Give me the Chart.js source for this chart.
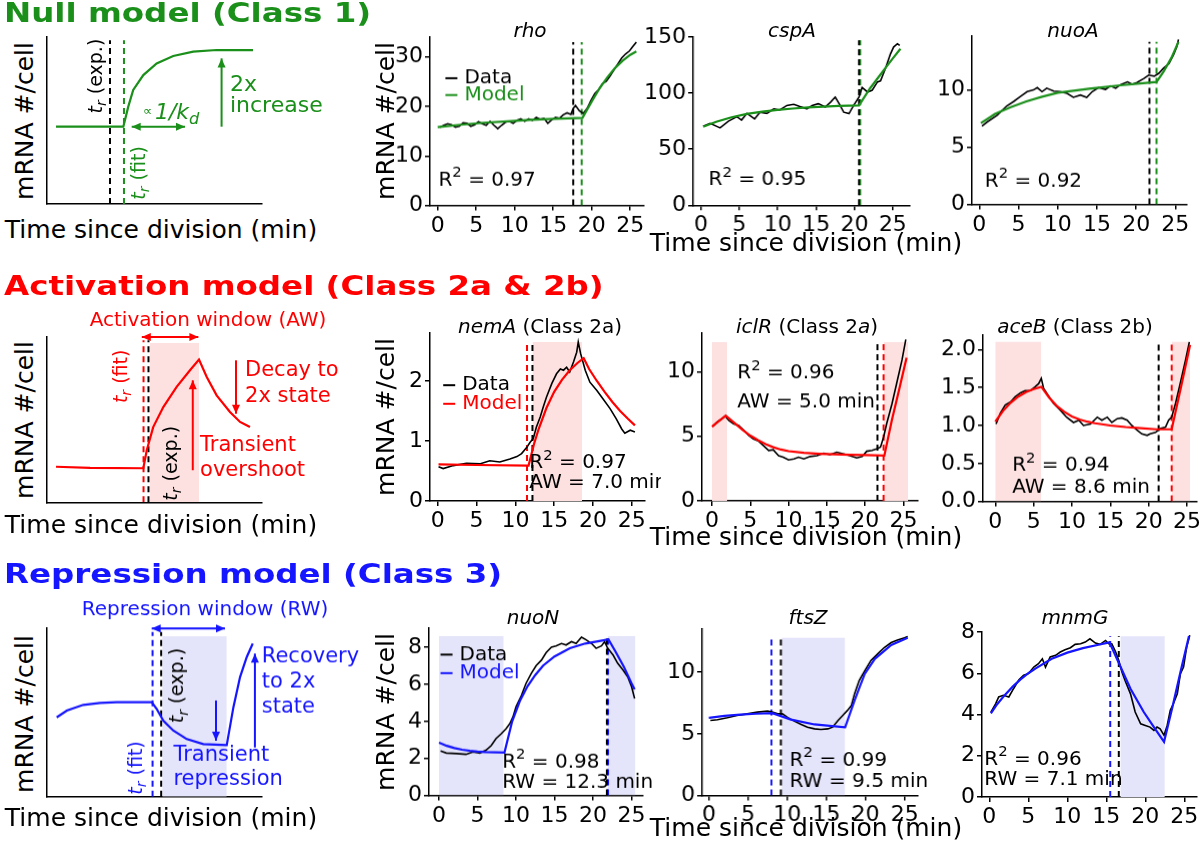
<!DOCTYPE html>
<html>
<head>
<meta charset="utf-8">
<script src="https://cdn.jsdelivr.net/npm/chart.js@4.4.1/dist/chart.umd.min.js"></script>
<style>
  body { margin: 0; background: #fff; }
  #fig { position: relative; width: 1200px; height: 853px; overflow: hidden; font-family: "DejaVu Sans", sans-serif; }
  .box { position: absolute; }
  .lbl { position: absolute; white-space: nowrap; line-height: 1; }
</style>
</head>
<body>
<div id="fig"></div>
<script>
// ---- data: [time since division (min), mRNA #/cell] ----
const timeTicks = [0, 5, 10, 15, 20, 25];

const rhoData = [[0.3,15.8],[0.8,16.2],[1.3,16.5],[1.8,16.3],[2.3,15.8],[2.8,16.0],[3.3,16.7],[3.8,16.6],[4.3,16.0],[4.8,16.3],[5.3,16.9],[5.8,16.5],[6.3,16.2],[6.8,17.0],[7.3,16.2],[7.8,15.5],[8.3,16.2],[8.8,16.8],[9.3,17.0],[9.8,16.6],[10.3,17.2],[10.8,17.5],[11.3,17.0],[11.8,17.5],[12.3,17.2],[12.8,17.8],[13.3,17.4],[13.8,17.6],[14.3,16.6],[14.8,17.3],[15.3,17.8],[15.8,17.6],[16.3,18.3],[16.8,18.7],[17.3,18.4],[17.6,19.6],[17.9,20.2],[18.4,19.1],[18.9,18.6],[19.4,19.6],[19.9,21.2],[20.4,22.6],[20.9,23.4],[21.4,24.6],[21.9,25.1],[22.4,26.2],[22.9,27.4],[23.4,28.6],[23.9,29.8],[24.4,30.6],[24.9,31.2],[25.3,32.0],[25.8,33.0]];
const rhoModel = [[0,15.8],[3,16.3],[6,16.7],[9,17.0],[12,17.3],[15,17.5],[18.8,17.7],[20,21.0],[21,23.6],[22,25.8],[23,27.7],[24,29.2],[25,30.4],[25.8,31.1]];
const rhoTicks = [0, 10, 20, 30];
const rhoTr = [17.6, 18.7];

const cspAData = [[0.3,70.4],[1.2,73],[2.5,69],[3.6,75],[4.7,79],[5.3,76],[6,82],[7,77],[7.7,83],[8.6,82],[9.5,86],[10.3,85],[11.2,89],[12.1,90],[12.9,88],[13.8,86],[14.5,89],[15.3,90.6],[16.2,87.6],[16.9,92],[17.5,96.5],[18,90.6],[18.6,83],[19.3,81.7],[19.9,89],[20.6,96.5],[21,105],[21.7,101],[22.3,102.5],[23,110],[23.4,111],[24.1,123],[24.7,135],[25.1,141],[25.6,144],[25.9,142.6]];
const cspAModel = [[0.3,70],[2,74.5],[4,78.5],[6,81.5],[8,83.5],[10,85],[12,86.3],[14,87.3],[16,88],[18,88.6],[20.6,89],[22,104],[23,113],[24,122],[25,131],[26,139.5]];
const cspATicks = [0, 50, 100, 150];
const cspATr = [20.6, 20.75];

const nuoAData = [[0.34,6.84],[1,7.2],[2.3,7.8],[3.5,8.6],[4.4,9.0],[5.2,9.4],[6.1,9.85],[6.9,10.0],[7.4,10.2],[8,9.85],[8.6,10.15],[9.5,9.9],[10.3,9.85],[11.2,9.7],[12,9.35],[12.9,9.55],[13.7,9.35],[14.4,9.85],[15.2,10.2],[16.1,10.05],[16.7,10.35],[17.4,10.15],[18,10.45],[18.9,10.7],[19.5,10.5],[20.1,10.65],[21,11.0],[21.6,11.3],[22.3,11.2],[22.9,11.45],[23.5,11.9],[24.2,12.3],[24.8,13.1],[25.2,13.8],[25.4,14.4]];
const nuoAModel = [[0.2,7.1],[2,7.9],[4,8.5],[6,9.0],[8,9.4],[10,9.75],[14,10.1],[18,10.4],[22.6,10.7],[23.5,11.6],[24.5,12.8],[25.4,14.2]];
const nuoATicks = [0, 5, 10];
const nuoATr = [21.7, 22.6];

const nemAData = [[0.1,0.57],[0.7,0.54],[2,0.59],[3.7,0.63],[5.5,0.62],[6.7,0.67],[8,0.65],[9.3,0.7],[10.2,0.74],[10.8,0.79],[11.5,0.9],[11.9,0.98],[12.3,1.04],[12.7,1.23],[13.2,1.4],[13.6,1.57],[14,1.73],[14.7,1.96],[15.3,2.12],[15.8,2.2],[16.2,2.18],[16.6,2.23],[17,2.15],[17.5,2.32],[17.9,2.48],[18.1,2.65],[18.4,2.46],[19,2.18],[19.6,1.98],[20.5,1.84],[21.3,1.7],[22.2,1.54],[23,1.37],[23.7,1.2],[24.1,1.13],[24.8,1.18],[25.4,1.15]];
const nemAModel = [[0.1,0.61],[5,0.6],[11.7,0.59],[12.4,0.95],[13,1.2],[14,1.55],[15,1.82],[16,2.02],[17,2.18],[18,2.3],[18.8,2.38],[19.5,2.2],[20.5,2.0],[21.5,1.82],[22.5,1.65],[23.5,1.5],[24.5,1.37],[25.4,1.26]];
const nemATicks = [0, 1, 2];
const nemATr = [12.2, 11.5];
const nemAWin = [[12.2, 18.6]];

const iclRData = [[0.1,5.77],[0.65,6.1],[1.3,6.36],[1.7,6.57],[2.2,6.23],[2.8,5.97],[3.5,5.84],[4.1,5.5],[4.8,5.06],[5.4,4.8],[6.1,4.62],[6.7,4.29],[7.4,3.9],[8,3.95],[8.7,3.5],[9.3,3.38],[10,3.17],[10.7,3.25],[11.3,3.38],[12,3.25],[12.8,3.43],[13.7,3.5],[14.6,3.69],[15.4,3.58],[16.3,3.77],[17.2,3.64],[18,3.5],[18.9,3.32],[19.6,3.43],[20.2,3.84],[20.9,3.9],[21.5,4.03],[22,4.16],[22.4,4.94],[22.8,5.97],[23.5,7.53],[24.1,9.09],[24.8,10.9],[25.3,12.5]];
const iclRModel = [[0,5.75],[1.8,6.6],[3,6.0],[4,5.5],[5,5.05],[6,4.7],[7,4.4],[8,4.15],[9,3.97],[10,3.85],[12,3.72],[14,3.65],[16,3.6],[18,3.57],[20,3.54],[22.5,3.5],[23.5,6.3],[24.5,8.8],[25.4,11.1]];
const iclRTicks = [0, 5, 10];
const iclRTr = [21.6, 22.4];
const iclRWin = [[0, 2.0], [22.4, 25.6]];

const aceBData = [[0.1,1.02],[0.65,1.16],[1.3,1.27],[2,1.31],[2.6,1.38],[3.3,1.43],[3.9,1.46],[4.6,1.46],[5.2,1.51],[5.65,1.55],[6,1.62],[6.3,1.49],[7,1.38],[7.6,1.29],[8.5,1.2],[9.3,1.11],[10.2,1.04],[10.9,1.07],[11.5,1.0],[12.4,1.02],[13.3,1.11],[13.9,1.07],[14.6,1.11],[15.2,1.04],[15.9,1.09],[16.5,1.1],[17.2,1.07],[17.8,1.0],[18.5,0.94],[19.1,0.89],[19.8,0.87],[20.2,0.89],[20.9,0.91],[21.5,0.96],[22.2,0.98],[22.6,1.07],[23,1.11],[23.5,1.29],[24.1,1.55],[24.8,1.86],[25.3,2.1]];
const aceBModel = [[0,1.05],[1,1.19],[2,1.3],[3,1.38],[4,1.44],[5,1.48],[6,1.51],[7,1.37],[8,1.26],[9,1.18],[10,1.12],[11,1.08],[12,1.05],[13,1.03],[15,1.0],[17,0.98],[19,0.965],[21,0.95],[23,0.95],[24.2,1.5],[25.4,2.06]];
const aceBTicks = [0, 0.5, 1, 1.5, 2];
const aceBTr = [21.3, 23.0];
const aceBWin = [[0, 6.0], [23.0, 25.4]];

const nuoNData = [[0.2,2.4],[0.95,2.29],[2.25,2.26],[3.5,2.22],[4.4,2.35],[5.3,2.29],[6.1,2.44],[6.8,2.7],[7.4,3.07],[8.1,3.34],[8.7,3.6],[9.2,3.88],[9.6,4.24],[10,4.78],[10.7,5.4],[11.3,6.05],[12,6.6],[12.6,7.0],[13.3,7.3],[13.9,7.7],[14.6,8.0],[15.2,8.07],[15.9,8.2],[16.5,8.12],[17.2,8.3],[17.8,8.2],[18.5,8.54],[19.1,8.4],[19.8,8.2],[20.4,7.94],[21.1,8.07],[21.5,8.3],[21.9,7.94],[22.6,7.58],[23.2,7.13],[23.9,6.77],[24.5,6.4],[25,5.87],[25.4,5.23]];
const nuoNModel = [[0,2.85],[1,2.68],[2,2.56],[3,2.47],[4,2.41],[5,2.37],[6,2.34],[8.5,2.32],[9.5,4.0],[10.5,5.1],[11.5,5.9],[12.5,6.5],[13.5,7.0],[15,7.5],[17,7.95],[19,8.2],[21,8.35],[22,8.42],[23,7.7],[24,6.95],[25,6.05],[25.4,5.72]];
const nuoNTicks = [0, 2, 4, 6, 8];
const nuoNTr = [21.8, 21.95];
const nuoNWin = [[0, 8.4], [21.9, 25.5]];

const ftsZData = [[0.2,6.08],[1.1,6.14],[2.35,6.3],[3.6,6.49],[4.9,6.62],[6.2,6.76],[7.5,6.84],[8.1,6.76],[8.8,6.62],[9.4,6.62],[10,6.35],[10.9,6.03],[11.8,5.76],[12.6,5.54],[13.5,5.4],[14.3,5.35],[15.2,5.4],[15.8,5.54],[16.5,6.08],[17.1,6.49],[17.7,6.9],[18.2,7.3],[18.6,8.24],[19.2,9.32],[19.9,10.1],[20.7,10.95],[21.6,11.5],[22.4,12.0],[23.3,12.4],[24.1,12.6],[25,12.8],[25.4,12.9]];
const ftsZModel = [[0,6.3],[2,6.45],[4,6.55],[6,6.63],[8.1,6.68],[10.5,6.15],[13.5,5.76],[17.4,5.53],[18.6,7.7],[19.9,9.86],[21.2,11.08],[23.3,12.2],[25.4,12.8]];
const ftsZTicks = [0, 5, 10];
const ftsZTr = [9.2, 8.0];
const ftsZWin = [[9.3, 17.4]];

const mnmGData = [[0.2,4.12],[0.8,4.52],[1.2,4.85],[1.8,4.93],[2.5,4.85],[3.1,5.25],[3.8,5.69],[4.4,5.9],[5,5.98],[5.7,6.3],[6.3,6.46],[6.8,6.7],[7.2,6.3],[7.8,6.79],[8.5,6.87],[9.1,7.03],[9.7,7.14],[10.4,7.24],[11,7.4],[11.7,7.43],[12.3,7.51],[12.9,7.67],[13.6,7.46],[14.2,7.4],[14.9,7.59],[15.3,7.43],[15.7,7.43],[16.2,7.03],[16.6,6.62],[17,6.06],[17.4,5.65],[18.1,5.0],[18.7,4.12],[19.4,3.55],[20,3.47],[20.6,3.39],[21.1,3.23],[21.5,3.39],[21.9,3.31],[22.4,2.99],[22.8,3.47],[23.2,4.2],[23.6,4.52],[24.1,5.0],[24.5,5.98],[24.9,6.3],[25.3,7.27],[25.7,7.84]];
const mnmGModel = [[0.2,4.05],[1,4.5],[2,4.95],[3,5.35],[4,5.7],[5,6.0],[6,6.25],[8,6.7],[10,7.0],[12,7.22],[14,7.38],[15.4,7.5],[16.6,6.5],[18.1,5.25],[19.8,4.12],[21.1,3.39],[22.4,2.67],[23.5,4.4],[24.5,6.05],[25.6,7.8]];
const mnmGTicks = [0, 2, 4, 6, 8];
const mnmGTr = [16.6, 15.5];
const mnmGWin = [[16.8, 22.5]];

// ---- schematic curves (arbitrary units 0-100) ----
const nullCurve = [[4.2,46.3],[35.5,46.3],[37.8,58.3],[40.1,68.3],[44.8,77.2],[51,84.2],[58.7,88.6],[68,91.2],[78.9,92.2],[95.8,92.2]];
const actCurve = [[4.2,21.5],[20,20.8],[44.8,20.6],[46.4,31.5],[49.4,45.5],[54.1,57.6],[60.3,69.8],[66.5,79.9],[70.7,86.3],[74.3,75.8],[78.9,64.7],[85.1,54.6],[89.8,48.6],[94.4,45.5]];
const repCurve = [[4.5,47.1],[9.2,51.1],[16.9,54.5],[24.7,55.7],[32.4,56.1],[48.7,56.1],[51,52.1],[54.1,45.1],[58.8,39.2],[65,34.2],[72.7,31.2],[83.6,30.6],[86.7,53.1],[89.8,71],[92.9,82.9],[95.7,90.9]];

const GREEN = '#1a8f1a', RED = '#ff0000', BLUE = '#1515ff';
const PINK = '#fde1e1', LAV = '#e4e4fa';
const FONT = '"DejaVu Sans", sans-serif';
const fig = document.getElementById('fig');

// small rich text: *..* italic, _x subscript, ^x superscript
function parseRich(str) {
  const segs = []; let it = false;
  for (let i = 0; i < str.length; i++) {
    const c = str[i];
    if (c === '*') { it = !it; continue; }
    if (c === '_' || c === '^') { segs.push({t: str[++i], it, sub: c === '_', sup: c === '^'}); continue; }
    const last = segs[segs.length - 1];
    if (last && !last.sub && !last.sup && last.it === it) last.t += c;
    else segs.push({t: c, it});
  }
  return segs;
}

function drawRich(ctx, str, x, y, size, color, align, rot) {
  ctx.save();
  ctx.translate(x, y);
  if (rot) ctx.rotate(rot * Math.PI / 180);
  ctx.fillStyle = color;
  ctx.textBaseline = 'middle';
  ctx.textAlign = 'left';
  const parts = parseRich(str).map(s => {
    const sz = (s.sub || s.sup) ? size * 0.74 : size;
    const font = (s.it ? 'italic ' : '') + sz + 'px ' + FONT;
    ctx.font = font;
    return {t: s.t, font, w: ctx.measureText(s.t).width, dy: s.sub ? size * 0.3 : s.sup ? -size * 0.36 : 0};
  });
  const total = parts.reduce((a, p) => a + p.w, 0);
  let cx = align === 'center' ? -total / 2 : 0;
  parts.forEach(p => { ctx.font = p.font; ctx.fillText(p.t, cx, p.dy); cx += p.w; });
  ctx.restore();
}

function arrowHead(ctx, x, y, fx, fy) {
  const a = Math.atan2(y - fy, x - fx), L = 9, W = 4;
  ctx.beginPath();
  ctx.moveTo(x, y);
  ctx.lineTo(x - L * Math.cos(a) + W * Math.sin(a), y - L * Math.sin(a) - W * Math.cos(a));
  ctx.lineTo(x - L * Math.cos(a) - W * Math.sin(a), y - L * Math.sin(a) + W * Math.cos(a));
  ctx.closePath();
  ctx.fill();
}

function drawItems(chart, items) {
  const ctx = chart.ctx, sx = chart.scales.x, sy = chart.scales.y;
  (items || []).forEach(it => {
    const px = sx.getPixelForValue(it.x), py = sy.getPixelForValue(it.y);
    if (it.k === 'text') {
      drawRich(ctx, it.s, px, py, it.size || 20, it.c || '#000', it.align || 'left', it.rot || 0);
    } else if (it.k === 'key') {
      ctx.save();
      ctx.strokeStyle = it.c; ctx.lineWidth = 2;
      ctx.beginPath(); ctx.moveTo(px, py); ctx.lineTo(px + 12, py); ctx.stroke();
      ctx.restore();
      drawRich(ctx, it.s, px + 19, py, 20, it.c, 'left', 0);
    } else if (it.k === 'arrow') {
      const qx = sx.getPixelForValue(it.x2), qy = sy.getPixelForValue(it.y2);
      ctx.save();
      ctx.strokeStyle = it.c; ctx.fillStyle = it.c; ctx.lineWidth = 2;
      ctx.beginPath(); ctx.moveTo(px, py); ctx.lineTo(qx, qy); ctx.stroke();
      arrowHead(ctx, qx, qy, px, py);
      if (it.both) arrowHead(ctx, px, py, qx, qy);
      ctx.restore();
    }
  });
}

const pts = a => a.map(([x, y]) => ({x, y}));
const dataLine = a => ({data: pts(a), borderColor: '#000', borderWidth: 1.6, pointRadius: 0, tension: 0, order: 1});
const modelLine = (a, c) => ({data: pts(a), borderColor: c, borderWidth: 2.2, pointRadius: 0, tension: 0, order: 0});
const vline = (x, top, c) => ({data: [{x, y: 0}, {x, y: top}], borderColor: c, borderWidth: 2, borderDash: [6, 4], pointRadius: 0, order: 2});
const shade = (a, b, top, c) => ({data: [{x: a, y: top}, {x: b, y: top}], borderWidth: 0, borderColor: 'rgba(0,0,0,0)', backgroundColor: c, fill: 'origin', pointRadius: 0, order: 3});

function axis(dir, range, ticks, size, fmt) {
  return {
    type: 'linear', min: range[0], max: range[1],
    afterFit: s => { if (dir === 'x') s.height = size; else s.width = size; },
    afterBuildTicks: s => { s.ticks = (ticks || []).map(v => ({value: v})); },
    border: {display: true, color: '#000', width: 1.5},
    grid: {display: !!ticks, drawOnChartArea: false, drawTicks: true, tickLength: 5, color: '#000', lineWidth: 1.5},
    ticks: {display: !!ticks, color: '#000', font: {family: FONT, size: 22}, padding: 2, maxRotation: 0, autoSkip: false, callback: fmt || (v => v)}
  };
}

function makeChart(box, cfg) {
  const [l, t, r, b] = box;
  const sch = !cfg.yt;
  // schematics get wide margins so their notes can run past the axes
  const padL = sch ? 8 : 52, padT = sch ? 40 : 16, padR = sch ? 120 : 16, padB = sch ? 8 : 32;
  const div = document.createElement('div');
  div.className = 'box';
  div.style.left = (l - padL) + 'px';
  div.style.top = (t - padT) + 'px';
  div.style.width = (r - l + padL + padR) + 'px';
  div.style.height = (b - t + padT + padB) + 'px';
  const cv = document.createElement('canvas');
  div.appendChild(cv);
  fig.appendChild(div);
  return new Chart(cv, {
    type: 'line',
    data: {datasets: cfg.datasets},
    options: {
      responsive: true, maintainAspectRatio: false, animation: false, events: [],
      layout: {padding: {top: padT, right: padR, left: 0, bottom: 0}},
      plugins: {legend: {display: false}, tooltip: {enabled: false}},
      scales: {
        x: axis('x', cfg.xr, cfg.xt, padB),
        y: axis('y', cfg.yr, cfg.yt, padL, cfg.fmt)
      }
    },
    plugins: [{id: 'annot', afterDatasetsDraw: ch => drawItems(ch, cfg.items)}]
  });
}

function dataPanel(p) {
  const ds = [dataLine(p.data), modelLine(p.model, p.color), vline(p.tr[0], p.top, '#000'), vline(p.tr[1], p.top, p.color)];
  (p.wins || []).forEach(w => ds.push(shade(w[0], w[1], p.shadeTop, p.shadeColor)));
  makeChart(p.box, {xr: p.xr, yr: p.yr, xt: timeTicks, yt: p.yt, fmt: p.fmt, datasets: ds, items: p.items});
}

function label(html, x, y, o) {
  const d = document.createElement('div');
  d.className = 'lbl';
  d.innerHTML = html;
  d.style.left = x + 'px';
  d.style.top = y + 'px';
  d.style.fontSize = (o.size || 20) + 'px';
  d.style.color = o.color || '#000';
  if (o.bold) d.style.fontWeight = 'bold';
  let tf = o.left ? 'translate(0,-50%)' : 'translate(-50%,-50%)';
  if (o.rot) tf += ' rotate(' + o.rot + 'deg)';
  if (o.sx) tf += ' scaleX(' + o.sx + ')';
  d.style.transform = tf;
  d.style.transformOrigin = o.left ? '0 50%' : '50% 50%';
  fig.appendChild(d);
}

// ---- row 1: null model ----
makeChart([47, 37, 262, 204], {
  xr: [0, 100], yr: [0, 100],
  datasets: [modelLine(nullCurve, GREEN), vline(29.3, 98, '#000'), vline(35.8, 98, GREEN)],
  items: [
    {k: 'text', x: 23.1, y: 76.6, s: '*t_r* (exp.)', rot: -90, align: 'center', size: 19},
    {k: 'text', x: 43.3, y: 18.6, s: '*t_r* (fit)', rot: -90, align: 'center', size: 19, c: GREEN},
    {k: 'arrow', x: 39.4, y: 46.3, x2: 64.2, y2: 46.3, c: GREEN, both: true},
    {k: 'text', x: 44.7, y: 55.3, s: '∝', size: 13, c: GREEN},
    {k: 'text', x: 50.2, y: 54.5, s: '*1/k_d*', size: 22, c: GREEN},
    {k: 'arrow', x: 81.2, y: 46.3, x2: 81.2, y2: 87.2, c: GREEN},
    {k: 'text', x: 85.1, y: 71.3, s: '2x', size: 22, c: GREEN},
    {k: 'text', x: 85.1, y: 58.3, s: 'increase', size: 22, c: GREEN}
  ]
});
dataPanel({box: [430, 37.4, 643.3, 205], xr: [-1, 26.7], yr: [0, 34], yt: rhoTicks, data: rhoData, model: rhoModel, color: GREEN, tr: rhoTr, top: 33,
  items: [{k: 'key', x: 1.0, y: 25.7, s: 'Data', c: '#000'}, {k: 'key', x: 1.0, y: 22.3, s: 'Model', c: GREEN}, {k: 'text', x: 0.1, y: 5.1, s: 'R^2 = 0.97'}]});
dataPanel({box: [693.4, 36.7, 909.1, 205], xr: [-1, 27.2], yr: [0, 150], yt: cspATicks, data: cspAData, model: cspAModel, color: GREEN, tr: cspATr, top: 147,
  items: [{k: 'text', x: 1.0, y: 22.3, s: 'R^2 = 0.95'}]});
dataPanel({box: [971.7, 36.4, 1186.8, 204], xr: [-0.93, 26.5], yr: [0, 14.7], yt: nuoATicks, data: nuoAData, model: nuoAModel, color: GREEN, tr: nuoATr, top: 14.2,
  items: [{k: 'text', x: 0.7, y: 2.0, s: 'R^2 = 0.92'}]});

// ---- row 2: activation model ----
makeChart([47, 336.7, 262, 502], {
  xr: [0, 100], yr: [0, 100],
  datasets: [modelLine(actCurve, RED), vline(44.9, 98, RED), vline(47.2, 98, '#000'), shade(47.9, 70.7, 96.4, PINK)],
  items: [
    {k: 'arrow', x: 44.1, y: 100, x2: 70.4, y2: 100, c: RED, both: true},
    {k: 'text', x: 74.9, y: 110.1, s: 'Activation window (AW)', align: 'center', size: 20, c: RED},
    {k: 'text', x: 34.7, y: 76.2, s: '*t_r* (fit)', rot: -90, align: 'center', size: 19, c: RED},
    {k: 'text', x: 58, y: 23.6, s: '*t_r* (exp.)', rot: -90, align: 'center', size: 19},
    {k: 'arrow', x: 87.9, y: 85.9, x2: 87.9, y2: 53.6, c: RED},
    {k: 'text', x: 92.1, y: 79.9, s: 'Decay to', size: 21, c: RED},
    {k: 'text', x: 92.1, y: 63.7, s: '2x state', size: 21, c: RED},
    {k: 'arrow', x: 67.8, y: 19.4, x2: 67.8, y2: 73.8, c: RED},
    {k: 'text', x: 71.2, y: 34.5, s: 'Transient', size: 21, c: RED},
    {k: 'text', x: 71.2, y: 19.4, s: 'overshoot', size: 21, c: RED}
  ]
});
dataPanel({box: [429.9, 332.7, 644.9, 500.7], xr: [-1, 26.7], yr: [0, 2.8], yt: nemATicks, data: nemAData, model: nemAModel, color: RED, tr: nemATr, top: 2.66, wins: nemAWin, shadeTop: 2.65, shadeColor: PINK,
  items: [{k: 'key', x: 0.7, y: 1.93, s: 'Data', c: '#000'}, {k: 'key', x: 0.7, y: 1.62, s: 'Model', c: RED},
          {k: 'text', x: 11.8, y: 0.63, s: 'R^2 = 0.97'}, {k: 'text', x: 11.8, y: 0.3, s: 'AW = 7.0 min'}]});
dataPanel({box: [701.7, 333.1, 917, 500], xr: [-1.3, 26.8], yr: [0, 13], yt: iclRTicks, data: iclRData, model: iclRModel, color: RED, tr: iclRTr, top: 12.4, wins: iclRWin, shadeTop: 12.3, shadeColor: PINK,
  items: [{k: 'text', x: 3.3, y: 9.87, s: 'R^2 = 0.96'}, {k: 'text', x: 3.3, y: 7.66, s: 'AW = 5.0 min'}]});
dataPanel({box: [982.7, 335.1, 1196.7, 500.7], xr: [-1.6, 26.3], yr: [0, 2.19], yt: aceBTicks, fmt: v => v.toFixed(1), data: aceBData, model: aceBModel, color: RED, tr: aceBTr, top: 2.11, wins: aceBWin, shadeTop: 2.1, shadeColor: PINK,
  items: [{k: 'text', x: 2.2, y: 0.47, s: 'R^2 = 0.94'}, {k: 'text', x: 2.2, y: 0.18, s: 'AW = 8.6 min'}]});

// ---- row 3: repression model ----
makeChart([47, 628, 262, 795.7], {
  xr: [0, 100], yr: [0, 100],
  datasets: [modelLine(repCurve, BLUE), vline(49.1, 97.8, BLUE), vline(53.1, 97.8, '#000'), shade(53.6, 83.6, 95.2, LAV)],
  items: [
    {k: 'arrow', x: 48.7, y: 99.8, x2: 82.8, y2: 99.8, c: BLUE, both: true},
    {k: 'text', x: 73.5, y: 110.7, s: 'Repression window (RW)', align: 'center', size: 20, c: BLUE},
    {k: 'text', x: 41.7, y: 17.1, s: '*t_r* (fit)', rot: -90, align: 'center', size: 19, c: BLUE},
    {k: 'text', x: 61.1, y: 66, s: '*t_r* (exp.)', rot: -90, align: 'center', size: 19},
    {k: 'arrow', x: 78.6, y: 57.1, x2: 78.6, y2: 33.2, c: BLUE},
    {k: 'text', x: 58.8, y: 24.3, s: 'Transient', size: 21, c: BLUE},
    {k: 'text', x: 58.8, y: 10.4, s: 'repression', size: 21, c: BLUE},
    {k: 'arrow', x: 96.7, y: 29.2, x2: 96.7, y2: 84.9, c: BLUE},
    {k: 'text', x: 99.9, y: 82.9, s: 'Recovery', size: 21, c: BLUE},
    {k: 'text', x: 99.9, y: 68, s: 'to 2x', size: 21, c: BLUE},
    {k: 'text', x: 99.9, y: 53.1, s: 'state', size: 21, c: BLUE}
  ]
});
dataPanel({box: [429.3, 628.4, 643.4, 795], xr: [-1.3, 26.5], yr: [0, 9.03], yt: nuoNTicks, data: nuoNData, model: nuoNModel, color: BLUE, tr: nuoNTr, top: 8.5, wins: nuoNWin, shadeTop: 8.6, shadeColor: LAV,
  items: [{k: 'key', x: 0.2, y: 7.6, s: 'Data', c: '#000'}, {k: 'key', x: 0.2, y: 6.6, s: 'Model', c: BLUE},
          {k: 'text', x: 8.2, y: 1.8, s: 'R^2 = 0.98'}, {k: 'text', x: 8.2, y: 0.72, s: 'RW = 12.3 min'}]});
dataPanel({box: [701.7, 628.5, 916.6, 795], xr: [-0.85, 26.7], yr: [0, 13.5], yt: ftsZTicks, data: ftsZData, model: ftsZModel, color: BLUE, tr: ftsZTr, top: 12.9, wins: ftsZWin, shadeTop: 12.8, shadeColor: LAV,
  items: [{k: 'text', x: 10.3, y: 2.84, s: 'R^2 = 0.99'}, {k: 'text', x: 10.3, y: 1.08, s: 'RW = 9.5 min'}]});
dataPanel({box: [981.7, 631.7, 1196.5, 796.7], xr: [-0.94, 26.6], yr: [0, 8], yt: mnmGTicks, data: mnmGData, model: mnmGModel, color: BLUE, tr: mnmGTr, top: 7.8, wins: mnmGWin, shadeTop: 7.8, shadeColor: LAV,
  items: [{k: 'text', x: -0.64, y: 1.81, s: 'R^2 = 0.96'}, {k: 'text', x: -0.64, y: 0.81, s: 'RW = 7.1 min'}]});

// ---- section titles, axis titles, panel titles ----
label('Null model (Class 1)', 4, 13, {left: true, bold: true, size: 26, color: GREEN, sx: 1.25});
label('Activation model (Class 2a &amp; 2b)', 4, 286, {left: true, bold: true, size: 26, color: RED, sx: 1.25});
label('Repression model (Class 3)', 4, 574, {left: true, bold: true, size: 26, color: BLUE, sx: 1.25});

[[24, 121], [24, 420], [24, 714], [385, 121], [385, 417], [385, 712]].forEach(([x, y]) => label('mRNA #/cell', x, y, {size: 25, rot: -90}));
[[161, 229], [806, 242], [161, 524], [806, 536], [161, 817], [806, 827]].forEach(([x, y]) => label('Time since division (min)', x, y, {size: 25}));

label('<i>rho</i>', 530, 30, {});
label('<i>cspA</i>', 792, 30, {});
label('<i>nuoA</i>', 1073, 30, {});
label('<i>nemA</i> (Class 2a)', 540, 326, {});
label('<i>iclR</i> (Class 2<i>a</i>)', 807, 326, {});
label('<i>aceB</i> (Class 2b)', 1075, 326, {});
label('<i>nuoN</i>', 533, 617, {});
label('<i>ftsZ</i>', 808, 617, {});
label('<i>mnmG</i>', 1075, 617, {});
</script>
</body>
</html>
